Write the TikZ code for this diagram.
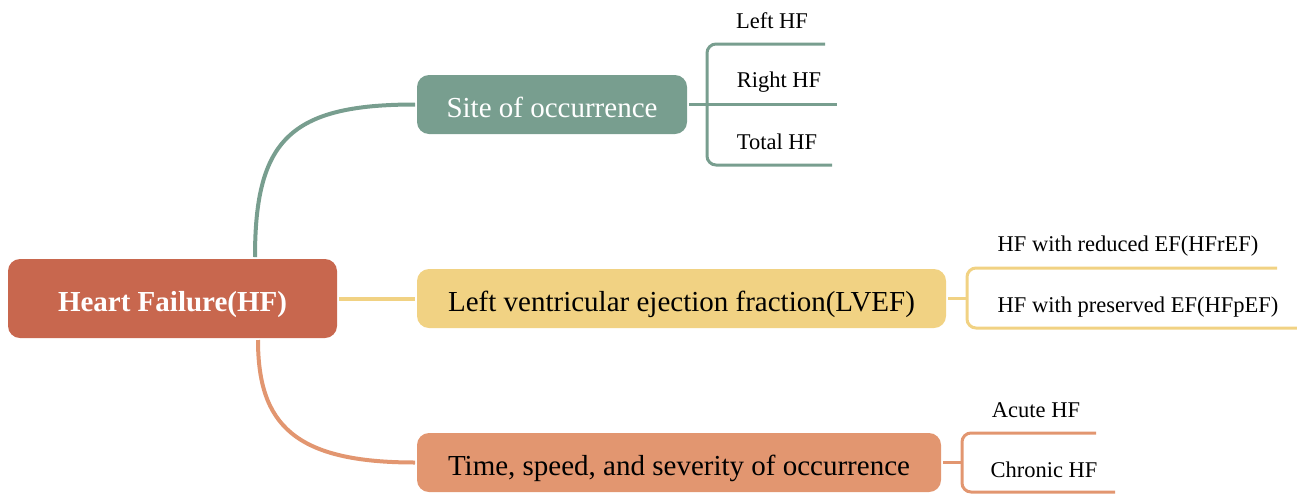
\documentclass[tikz,border=0pt]{standalone}
\usepackage{fontspec}
\setmainfont{Liberation Serif}
\usepackage{tikz}

\definecolor{hfred}{HTML}{C8674E}
\definecolor{sitegreen}{HTML}{789E8F}
\definecolor{lvefyellow}{HTML}{F1D283}
\definecolor{timeorange}{HTML}{E29670}

\begin{document}
\begin{tikzpicture}[
                    x=1pt, y=-1pt,
                    line width=4pt,
                    every node/.style={
                        inner sep=0pt,
                        font=\fontsize{29}{34}\selectfont
                    },
                    topic/.style={
                        rounded corners=12pt,
                        minimum height=59pt,
                        text height=26pt,
                        text depth=1pt,
                        text=white
                    },
                    leaf/.style={
                        font=\fontsize{22.5}{27}\selectfont,
                        text=black
                    }
                ]
                    \useasboundingbox (0,0) rectangle (1297,493);

                    \node[topic, fill=hfred, minimum width=329pt, minimum height=79pt,
                          font=\fontsize{29}{34}\selectfont\bfseries] (hf) at (172.5,298.5) {Heart Failure(HF)};
                    \node[topic, fill=sitegreen, minimum width=270pt] (site) at (552,104.5) {Site of occurrence};
                    \node[topic, fill=lvefyellow, minimum width=529pt, text=black] (lvef) at (681.5,298.5) {Left ventricular ejection fraction(LVEF)};
                    \node[topic, fill=timeorange, minimum width=524pt, text=black] (time) at (679,462.5) {Time, speed, and severity of occurrence};

                    \node[leaf] (left) at (772,21) {Left HF};
                    \node[leaf] (right) at (779,82) {Right HF};
                    \node[leaf] (total) at (777,142) {Total HF};
                    \node[leaf] (hfref) at (1128,246) {HF with reduced EF(HFrEF)};
                    \node[leaf] (hfpef) at (1138,307) {HF with preserved EF(HFpEF)};
                    \node[leaf] (acute) at (1036,410) {Acute HF};
                    \node[leaf] (chronic) at (1044,470) {Chronic HF};

                    \coordinate (lefte) at (825,44);
                    \coordinate (righte) at (837,104.5);
                    \coordinate (totale) at (832,165);
                    \coordinate (hfrefe) at (1277,268);
                    \coordinate (hfpefe) at (1297,328);
                    \coordinate (acutee) at (1096,433);
                    \coordinate (chronice) at (1115,492);

                    % Edges
                    \draw[sitegreen] (hf.north -| 255,0) .. controls (255,140) and (290,104.5) .. (site.west);
                    \draw[lvefyellow] (hf.east) -- (lvef.west);
                    \draw[timeorange] (hf.south -| 258,0) .. controls (258,425) and (295,462.5) .. (time.west);

                    \draw[sitegreen, line width=3pt] (site.east) -- (righte);
                    \draw[sitegreen, line width=3pt, rounded corners=9pt] (lefte) -- (707,44) -- (707,165) -- (totale);
                    \draw[lvefyellow, line width=3pt] (lvef.east) -- (967,298.5);
                    \draw[lvefyellow, line width=3pt, rounded corners=9pt] (hfrefe) -- (967,268) -- (967,328) -- (hfpefe);
                    \draw[timeorange, line width=3pt] (time.east) -- (962,462.5);
                    \draw[timeorange, line width=3pt, rounded corners=9pt] (acutee) -- (962,433) -- (962,492) -- (chronice);
                \end{tikzpicture}
\end{document}
